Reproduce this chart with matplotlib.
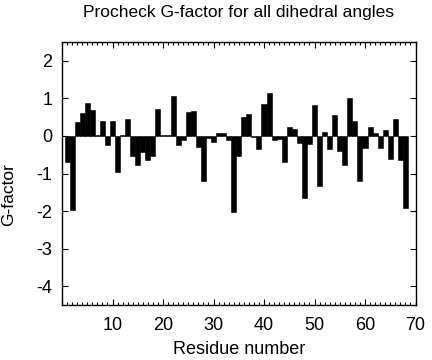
import numpy as np
import matplotlib
matplotlib.use("Agg")
import matplotlib.pyplot as plt

plt.rcParams["font.family"] = ["Liberation Sans", "DejaVu Sans"]
plt.rcParams["axes.unicode_minus"] = False

# G-factor per residue
residues = np.arange(1, 69)
gfactor = [
    -0.70, -1.96, 0.36, 0.60, 0.88, 0.68, 0.02, 0.41, -0.25, 0.40,
    -0.96, 0.02, 0.46, -0.53, -0.77, -0.44, -0.64, -0.53, 0.73, 0.02,
    0.02, 1.07, -0.24, -0.12, 0.65, 0.67, -0.30, -1.19, -0.06, -0.15,
    0.07, 0.07, -0.12, -2.02, -0.54, 0.51, 0.58, -0.03, -0.34, 0.86,
    1.15, -0.10, -0.09, -0.70, 0.25, 0.18, -0.18, -1.65, -0.22, 0.82,
    -1.34, 0.10, -0.34, 0.57, -0.41, -0.78, 1.01, 0.40, -1.21, -0.31,
    0.23, 0.07, -0.33, 0.15, -0.61, 0.45, -0.64, -1.93,
]
xticks = [10, 20, 30, 40, 50, 60, 70]
yticks = [-4, -3, -2, -1, 0, 1, 2]

fig = plt.figure(figsize=(4.32, 3.6), dpi=100)
ax = fig.add_axes([62 / 432, 55 / 360, 353.5 / 432, 263 / 360])

ax.bar(residues, gfactor, width=1.0, color="black", edgecolor="black", linewidth=0.4)

ax.set_xlim(0, 70)
ax.set_ylim(-4.5, 2.5)
ax.set_xticks(xticks)
ax.set_xticks(np.arange(0, 71, 1), minor=True)
ax.set_yticks(yticks)
ax.tick_params(which="both", direction="in", top=True, right=True, width=0.8, labelsize=13)
ax.tick_params(which="major", length=4)
ax.tick_params(which="minor", length=2)
ax.tick_params(axis="x", pad=9)
ax.tick_params(axis="y", pad=7)
for s in ax.spines.values():
    s.set_linewidth(1.0)

ax.set_xlabel("Residue number", fontsize=13, labelpad=5)
ax.set_ylabel("G-factor", fontsize=12.5)
ax.yaxis.set_label_coords(-0.13, 0.42)
ax.set_title("Procheck G-factor for all dihedral angles", fontsize=12.5, pad=18)

fig.savefig("out.png", dpi=100)
